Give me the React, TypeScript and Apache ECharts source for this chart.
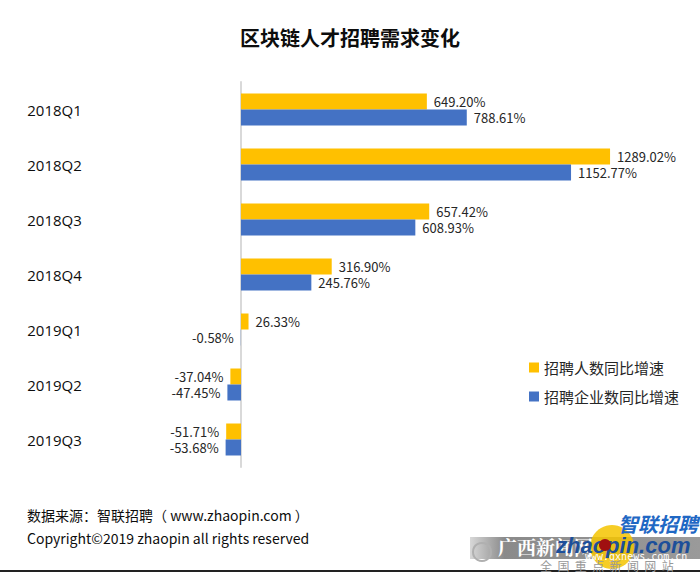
import React, { useEffect, useRef } from "react";
import * as echarts from "echarts";

const categories = ["2018Q1", "2018Q2", "2018Q3", "2018Q4", "2019Q1", "2019Q2", "2019Q3"];
const seriesNames = ["招聘人数同比增速", "招聘企业数同比增速"];
const peopleGrowth = [649.2, 1289.02, 657.42, 316.9, 26.33, -37.04, -51.71];
const companyGrowth = [788.61, 1152.77, 608.93, 245.76, -0.58, -47.45, -53.68];
const colors = ["#FFC000", "#4472C4"];
const titleText = "区块链人才招聘需求变化";
const sourceText = "数据来源：智联招聘（ www.zhaopin.com ）";
const copyrightText = "Copyright©2019 zhaopin all rights reserved";

const FONT = "'Microsoft YaHei', 'Noto Sans CJK SC', 'Noto Sans', sans-serif";
const LATIN = "'Open Sans', 'Noto Sans CJK SC', sans-serif";

function toItems(values: number[]) {
  return values.map((v) => ({
    value: v,
    label: { position: v < 0 ? "left" : "right" },
  }));
}

export default function App() {
  const ref = useRef<HTMLDivElement>(null);
  useEffect(() => {
    if (!ref.current) return;
    document.body.style.margin = "0";
    const chart = echarts.init(ref.current, undefined, { renderer: "svg" });
    const labelCfg = {
      show: true,
      distance: 7,
      fontSize: 13,
      color: "#262626",
      fontFamily: FONT,
      formatter: (p: any) => p.value.toFixed(2) + "%",
    };
    chart.setOption({
      animation: false,
      backgroundColor: "#ffffff",
      title: {
        text: titleText,
        left: "center",
        top: 22,
        textStyle: { fontSize: 20, fontWeight: "bold", color: "#0d0d0d", fontFamily: FONT },
      },
      legend: {
        orient: "vertical",
        left: 524,
        top: 355,
        itemWidth: 10,
        itemHeight: 10,
        itemGap: 14,
        icon: "rect",
        data: seriesNames,
        textStyle: { fontSize: 15, color: "#262626", fontFamily: FONT },
      },
      grid: { left: 223.8, right: 86.8, top: 82, bottom: 106, containLabel: false },
      xAxis: {
        type: "value",
        min: -60,
        max: 1300,
        show: false,
        splitLine: { show: false },
      },
      yAxis: {
        type: "category",
        inverse: true,
        data: categories,
        axisLine: { show: true, onZero: true, lineStyle: { color: "#d9d9d9", width: 2 } },
        axisTick: { show: false },
        axisLabel: { margin: 142, fontSize: 15, color: "#0d0d0d", fontFamily: LATIN },
      },
      series: [
        {
          name: seriesNames[0],
          type: "bar",
          data: toItems(peopleGrowth),
          barWidth: 16,
          barGap: "0%",
          itemStyle: { color: colors[0] },
          label: labelCfg,
        },
        {
          name: seriesNames[1],
          type: "bar",
          data: toItems(companyGrowth),
          barWidth: 16,
          barGap: "0%",
          itemStyle: { color: colors[1] },
          label: labelCfg,
        },
      ],
      graphic: [
        {
          type: "text",
          left: 27,
          top: 508,
          style: { text: sourceText, fontSize: 14, fill: "#0d0d0d", fontFamily: FONT },
        },
        {
          type: "text",
          left: 27,
          top: 531,
          style: { text: copyrightText, fontSize: 14, fill: "#0d0d0d", fontFamily: FONT },
        },
        {
          type: "line",
          shape: { x1: 0, y1: 571, x2: 700, y2: 571 },
          style: { stroke: "#222", lineWidth: 2 },
        },
        {
          type: "rect",
          shape: { x: 470, y: 537, width: 230, height: 22 },
          style: {
            fill: new echarts.graphic.LinearGradient(0, 0, 1, 0, [
              { offset: 0, color: "#d8d8d8" },
              { offset: 0.15, color: "#8a8a8a" },
              { offset: 1, color: "#9a9a9a" },
            ]),
          },
        },
        {
          type: "circle",
          shape: { cx: 482, cy: 552, r: 9 },
          style: { fill: "none", stroke: "#b0b0b0", lineWidth: 2 },
        },
        {
          type: "circle",
          shape: { cx: 612, cy: 547, r: 22 },
          style: { fill: "#f5c400", opacity: 0.85 },
        },
        {
          type: "text",
          left: 498,
          top: 537,
          style: { text: "广西新闻网", fontSize: 19, fontWeight: "bold", fill: "#ffffff", fontFamily: "'Noto Serif CJK SC', serif" },
        },
        {
          type: "text",
          left: 556,
          top: 534,
          style: { text: "zhaopin.com", fontSize: 22, fontWeight: "bold", fontStyle: "italic", fill: "#1d4f9a", fontFamily: "Arial, 'Liberation Sans', sans-serif" },
        },
        {
          type: "circle",
          shape: { cx: 605, cy: 545, r: 6 },
          style: { fill: "#a01010" },
        },
        {
          type: "text",
          left: 618,
          top: 513,
          style: { text: "智联招聘", fontSize: 20, fontWeight: "bold", fontStyle: "italic", fill: "#1f68c4", fontFamily: FONT },
        },
        {
          type: "text",
          left: 585,
          top: 551,
          style: { text: "www.gxnews.com.cn", fontSize: 10, fill: "#ffffff", fontFamily: "'DejaVu Sans Mono', monospace" },
        },
        {
          type: "text",
          left: 540,
          top: 559,
          style: { text: "全  国  重  点  新  闻  网  站", fontSize: 12, fill: "#999999", fontFamily: FONT },
        },
      ],
    });
    return () => chart.dispose();
  }, []);
  return <div ref={ref} style={{ width: 700, height: 573 }} />;
}
